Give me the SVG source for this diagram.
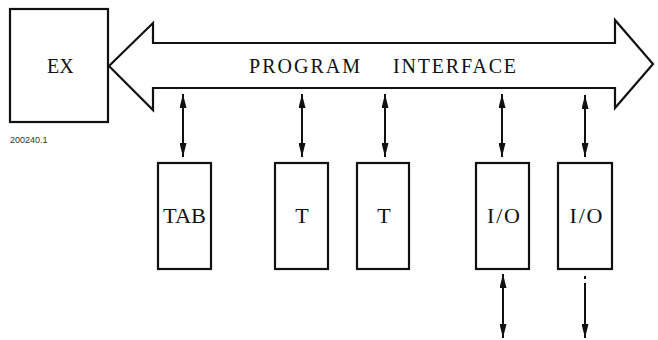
<svg xmlns="http://www.w3.org/2000/svg" width="658" height="340" viewBox="0 0 658 340">
<style>
.box{fill:#fff;stroke:#111;stroke-width:2.2}
.lbl{font-family:"Liberation Serif",serif;font-size:20px;fill:#111}
.blbl{font-family:"Liberation Serif",serif;font-size:22px;fill:#111}
.conn{stroke:#111;stroke-width:2;fill:none}
.ref{font-family:"Liberation Sans",sans-serif;font-size:9px;fill:#333}
</style>
<defs>
<marker id="ah" viewBox="0 0 14 7" refX="14" refY="3.5" markerWidth="14" markerHeight="7" markerUnits="userSpaceOnUse" orient="auto-start-reverse">
<path d="M0,0 L14,3.5 L0,7 z" fill="#111"/>
</marker>
</defs>
<rect width="658" height="340" fill="#fff"/>
<g id="ex">
<rect class="box" x="10" y="9" width="98" height="113"/>
<text class="lbl" x="47" y="73">EX</text>
</g>
<g id="program-interface">
<polygon class="box" points="109,66 153,23 153,43 615,43 615,20 653,64 615,108 615,88 153,88 153,110"/>
<text class="lbl" x="249" y="73" textLength="111" lengthAdjust="spacing">PROGRAM</text>
<text class="lbl" x="393" y="73" textLength="123" lengthAdjust="spacing">INTERFACE</text>
</g>
<text class="ref" x="10" y="143">200240.1</text>
<g id="tab">
<rect class="box" x="158" y="163" width="53" height="106"/>
<text class="blbl" x="184.5" y="223" text-anchor="middle" textLength="43" lengthAdjust="spacingAndGlyphs">TAB</text>
</g>
<g id="t1">
<rect class="box" x="275" y="163" width="53" height="106"/>
<text class="blbl" x="302" y="223" text-anchor="middle">T</text>
</g>
<g id="t2">
<rect class="box" x="357" y="163" width="52" height="106"/>
<text class="blbl" x="384" y="223" text-anchor="middle">T</text>
</g>
<g id="io1">
<rect class="box" x="476" y="163" width="53" height="106"/>
<text class="blbl" x="503.5" y="223" text-anchor="middle" textLength="33" lengthAdjust="spacing">I/O</text>
</g>
<g id="io2">
<rect class="box" x="558" y="163" width="54" height="106"/>
<text class="blbl" x="586" y="223" text-anchor="middle" textLength="33" lengthAdjust="spacing">I/O</text>
</g>
<g id="connectors">
<line class="conn" x1="183" y1="94" x2="183" y2="157" marker-start="url(#ah)" marker-end="url(#ah)"/>
<line class="conn" x1="302" y1="94" x2="302" y2="157" marker-start="url(#ah)" marker-end="url(#ah)"/>
<line class="conn" x1="385" y1="94" x2="385" y2="157" marker-start="url(#ah)" marker-end="url(#ah)"/>
<line class="conn" x1="502" y1="94" x2="502" y2="157" marker-start="url(#ah)" marker-end="url(#ah)"/>
<line class="conn" x1="585" y1="95" x2="585" y2="157" marker-start="url(#ah)" marker-end="url(#ah)"/>
<line class="conn" x1="503" y1="274" x2="503" y2="338" marker-start="url(#ah)" marker-end="url(#ah)"/>
<line class="conn" x1="585" y1="276" x2="585" y2="279"/>
<line class="conn" x1="585" y1="283" x2="585" y2="338" marker-end="url(#ah)"/>
</g>
</svg>
